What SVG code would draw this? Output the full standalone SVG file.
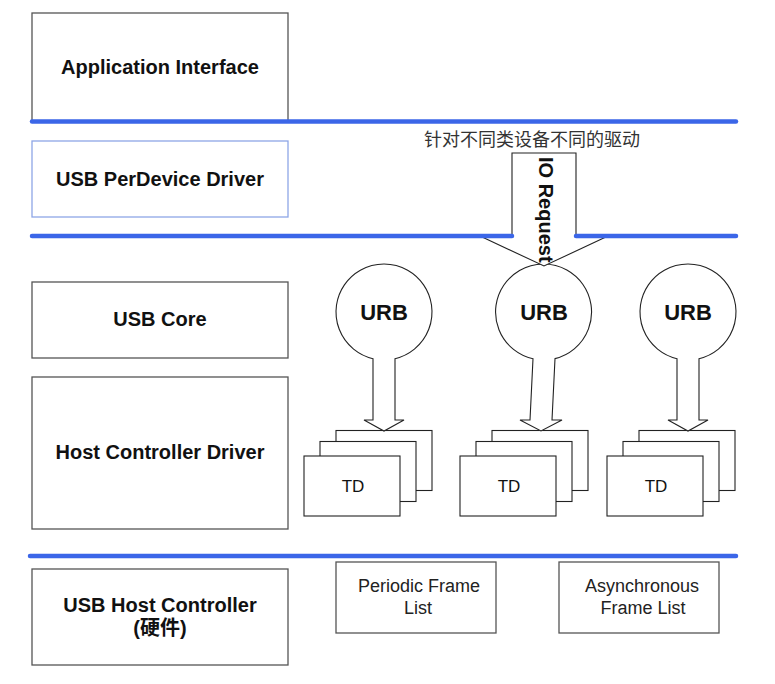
<svg xmlns="http://www.w3.org/2000/svg" width="775" height="684" viewBox="0 0 775 684">
<style>
.box{fill:#fff;stroke:#555;stroke-width:1.3}
.pbox{fill:#fff;stroke:#8ea6e6;stroke-width:1.3}
.blue{stroke:#3b66e8;stroke-width:4.5;stroke-linecap:round;fill:none}
.shape{fill:#fff;stroke:#222;stroke-width:1.1}
.lbl{font-family:"Liberation Sans",Arial,sans-serif;font-weight:bold;font-size:20px;fill:#111;text-anchor:middle}
.urb{font-family:"Liberation Sans",Arial,sans-serif;font-weight:bold;font-size:22px;fill:#111;text-anchor:middle}
.small{font-family:"Liberation Sans",Arial,sans-serif;font-size:18px;fill:#222;text-anchor:middle}
.td{font-family:"Liberation Sans",Arial,sans-serif;font-size:17px;fill:#111;text-anchor:middle}
.cn{font-family:"Liberation Sans","Noto Sans CJK SC",sans-serif;font-size:18px;fill:#333}
</style>
<rect width="775" height="684" fill="#fff"/>

<g id="app-interface">
<rect class="box" x="32" y="13" width="256" height="108"/>
<text class="lbl" x="160" y="74">Application Interface</text>
</g>
<g id="perdevice-driver">
<rect class="pbox" x="32" y="141" width="256" height="76"/>
<text class="lbl" x="160" y="186">USB PerDevice Driver</text>
</g>
<g id="usb-core">
<rect class="box" x="32" y="282" width="256" height="76"/>
<text class="lbl" x="160" y="326">USB Core</text>
</g>
<g id="hcd">
<rect class="box" x="32" y="377" width="256" height="152"/>
<text class="lbl" x="160" y="459">Host Controller Driver</text>
</g>
<g id="host-controller">
<rect class="box" x="32" y="569" width="256" height="96"/>
<text class="lbl" x="160" y="612">USB Host Controller</text>
<text class="lbl" x="160" y="635" style="font-family:'Liberation Sans','Noto Sans CJK SC',sans-serif">(硬件)</text>
</g>
<g id="periodic-list">
<rect class="box" x="336" y="562" width="160" height="71"/>
<text class="small" x="419" y="592">Periodic Frame</text>
<text class="small" x="418" y="614">List</text>
</g>
<g id="async-list">
<rect class="box" x="559" y="562" width="160" height="71"/>
<text class="small" x="642" y="592">Asynchronous</text>
<text class="small" x="643" y="614">Frame List</text>
</g>

<g id="td-stack-1">
<rect class="shape" x="336" y="430.5" width="96" height="60"/>
<rect class="shape" x="320" y="441.5" width="96" height="60"/>
<rect class="shape" x="304" y="456" width="96" height="60"/>
<text class="td" x="353" y="492">TD</text>
</g>
<g id="td-stack-2">
<rect class="shape" x="492" y="430.5" width="96" height="60"/>
<rect class="shape" x="476" y="441.5" width="96" height="60"/>
<rect class="shape" x="460" y="456" width="96" height="60"/>
<text class="td" x="509" y="492">TD</text>
</g>
<g id="td-stack-3">
<rect class="shape" x="639" y="430.5" width="96" height="60"/>
<rect class="shape" x="623" y="441.5" width="96" height="60"/>
<rect class="shape" x="607" y="456" width="96" height="60"/>
<text class="td" x="656" y="492">TD</text>
</g>

<g id="connectors">
<path id="urb1" class="shape" d="M373 358.7 A48 48 0 1 1 395 358.7 L395 420 L404 420 L384 431 L364 420 L373 420 Z"/>
<path id="urb2" class="shape" d="M533 358.8 A48 48 0 1 1 555 358.6 L552 420 L562 420 L541 431 L520 420 L530 420 Z"/>
<path id="urb3" class="shape" d="M677 358.7 A48 48 0 1 1 699 358.7 L699 420 L708 420 L688 431 L668 420 L677 420 Z"/>
<polygon id="io-request-arrow" class="shape" points="512,153 576,153 576,236 608,236 544,266 480,236 512,236"/>
<line class="blue" x1="32" y1="121.5" x2="736" y2="121.5"/>
<line class="blue" x1="32" y1="236" x2="512" y2="236"/>
<line class="blue" x1="576" y1="236" x2="736" y2="236"/>
<line class="blue" x1="30" y1="556" x2="736" y2="556"/>
</g>

<g id="urb-labels">
<text class="urb" x="384" y="320">URB</text>
<text class="urb" x="544" y="320">URB</text>
<text class="urb" x="688" y="320">URB</text>
</g>
<text class="lbl" text-anchor="start" style="text-anchor:start" transform="translate(539,157) rotate(90)">IO Request</text>
<text class="cn" x="424" y="146">针对不同类设备不同的驱动</text>
</svg>
